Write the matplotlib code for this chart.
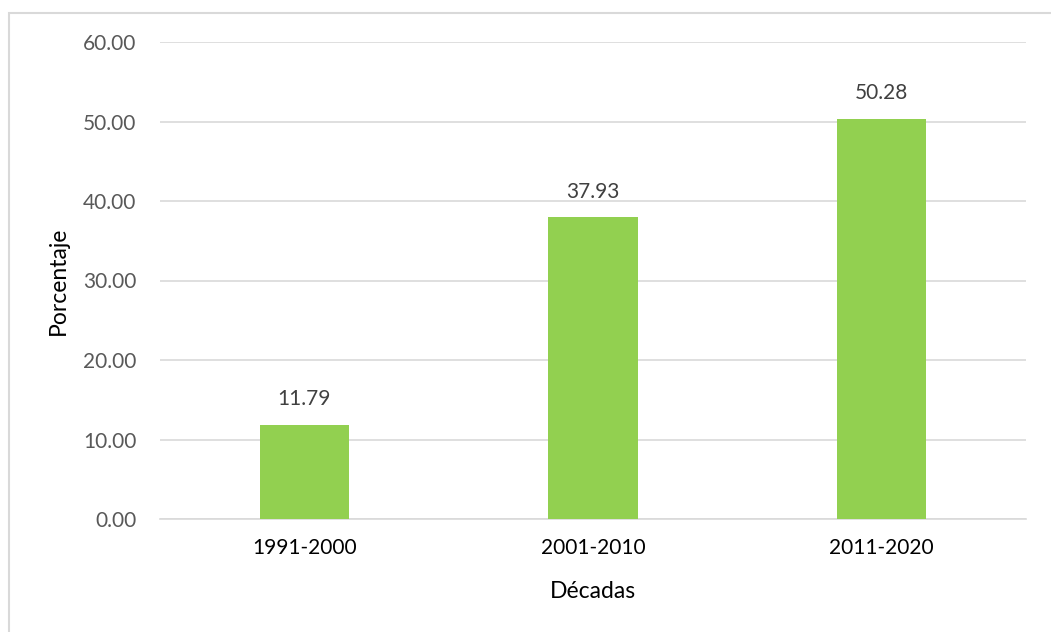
import matplotlib
matplotlib.use("Agg")
import matplotlib.pyplot as plt
from matplotlib.patches import Rectangle

# data
decadas = ["1991-2000", "2001-2010", "2011-2020"]
porcentaje = [11.79, 37.93, 50.28]
yticks = [0, 10, 20, 30, 40, 50, 60]

plt.rcParams['font.family'] = ['Lato', 'DejaVu Sans']

fig = plt.figure(figsize=(10.51, 6.32), dpi=100)
ax = fig.add_axes([160/1051, 1 - 519/632, (1026 - 160)/1051, (519 - 42)/632])

# outer chart border (only top/left/right visible in reference)
fig.patches.append(Rectangle((9/1051, -0.05), 1.1, 1 - 13/632 + 0.05, transform=fig.transFigure,
                             fill=False, edgecolor="#D9D9D9", linewidth=1.5, zorder=0))

x = range(len(decadas))
bars = ax.bar(x, porcentaje, width=0.31, color="#92D050", zorder=3)

for xi, v in zip(x, porcentaje):
    ax.text(xi, v + 2.0, f"{v:.2f}", ha="center", va="bottom", fontsize=15, color="#404040")

ax.set_xlim(-0.5, len(decadas) - 0.5)
ax.set_ylim(0, 60)
ax.set_yticks(yticks)
ax.set_yticklabels([f"{t:.2f}" for t in yticks], fontsize=15, color="#595959")
ax.set_xticks(list(x))
ax.set_xticklabels(decadas, fontsize=15, color="#000000")
ax.tick_params(axis="x", length=0, pad=14)
ax.tick_params(axis="y", length=0, pad=17)

ax.grid(axis="y", color="#D9D9D9", linewidth=1.2, zorder=0)
for s in ["top", "right", "left"]:
    ax.spines[s].set_visible(False)
ax.spines["bottom"].set_color("#D9D9D9")
ax.spines["bottom"].set_linewidth(1.2)

ax.set_xlabel("Décadas", fontsize=16.5, labelpad=16)
ax.set_ylabel("Porcentaje", fontsize=16.5, labelpad=10)

fig.savefig("out.png", dpi=100, facecolor="white")
